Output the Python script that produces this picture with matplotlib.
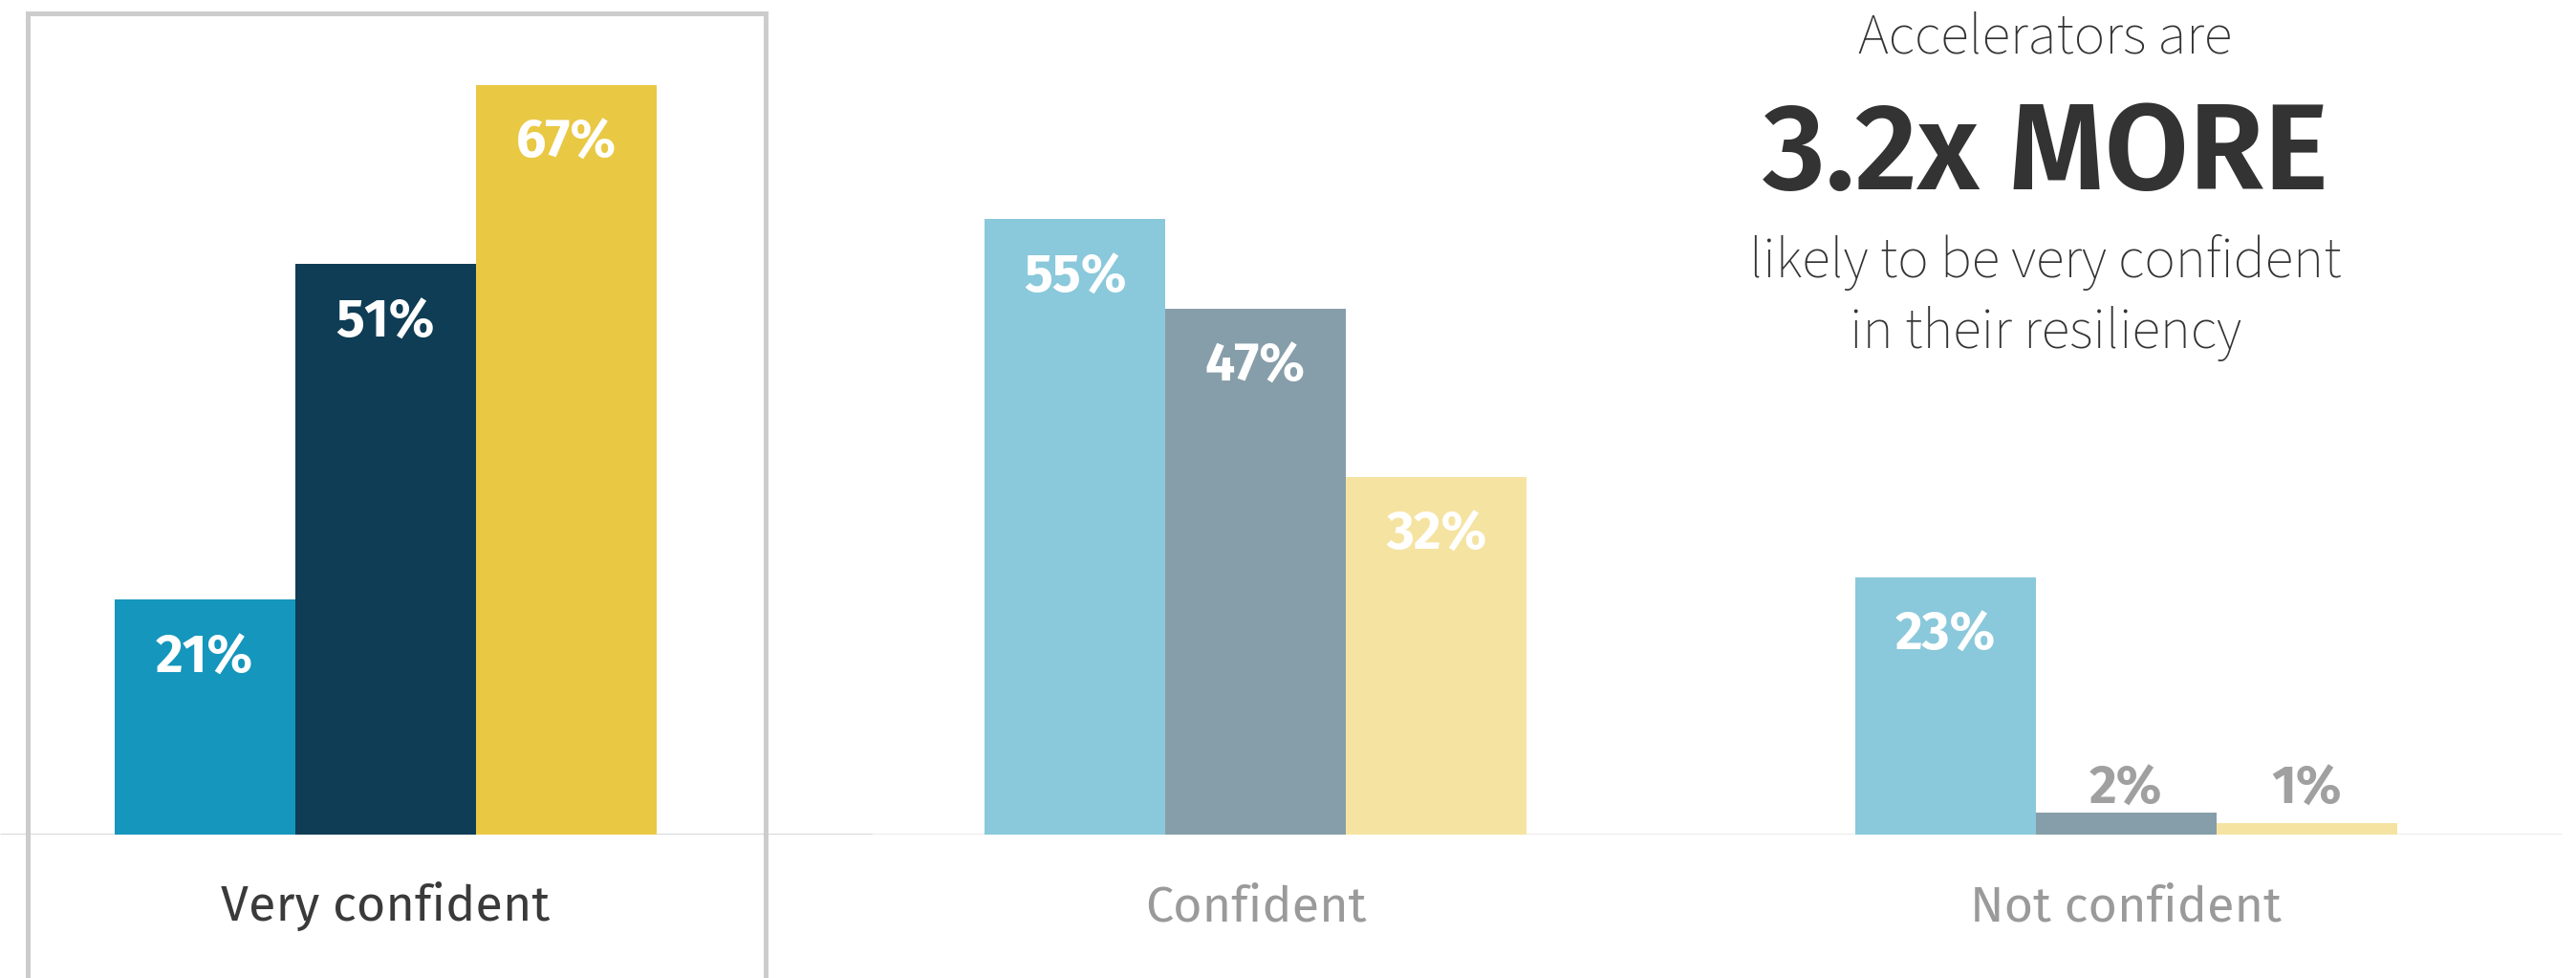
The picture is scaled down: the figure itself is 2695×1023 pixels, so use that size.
import matplotlib
matplotlib.use("Agg")
import matplotlib.pyplot as plt
from matplotlib.patches import Rectangle
from matplotlib.transforms import blended_transform_factory

LIGHT_FONT = ['Source Sans 3', 'Source Sans Pro', 'Lato', 'DejaVu Sans']
FONT = ['Fira Sans', 'Lato', 'DejaVu Sans']
plt.rcParams['font.family'] = FONT

# data
categories = ["Very confident", "Confident", "Not confident"]
series_1 = [21, 55, 23]
series_2 = [51, 47, 2]
series_3 = [67, 32, 1]
bar_labels_1 = ["21%", "55%", "23%"]
bar_labels_2 = ["51%", "47%", "2%"]
bar_labels_3 = ["67%", "32%", "1%"]

# first category is highlighted, the rest muted
strong_colors = ['#1596bc', '#0f3d55', '#e9c844']
muted_colors = ['#8ac8db', '#869ea9', '#f5e3a1']
cat_label_colors = ['#3a3a3a', '#9a9a9a', '#9a9a9a']

callout_top = "Accelerators are"
callout_big = "3.2x MORE"
callout_bottom = ["likely to be very confident", "in their resiliency"]

W, H = 2695, 1023
fig = plt.figure(figsize=(W / 100, H / 100), dpi=100)
base_px = 150
ax = fig.add_axes([0, base_px / H, 1, 1 - base_px / H])

spacing = 910.5
x0 = 403
ax.set_xlim(-x0 / spacing, (W - x0) / spacing)
ax.set_ylim(0, (H - base_px) / 11.7)
ax.axis('off')

w = 189 / spacing
series = [series_1, series_2, series_3]
labels = [bar_labels_1, bar_labels_2, bar_labels_3]
for k, vals in enumerate(series):
    for i, v in enumerate(vals):
        col = strong_colors[k] if i == 0 else muted_colors[k]
        xc = i + (k - 1) * w
        ax.bar(xc, v, width=w, color=col, linewidth=0, zorder=2)
        if v >= 10:
            ax.annotate(labels[k][i], (xc, v), xytext=(0, -76), textcoords='offset pixels',
                        ha='center', va='baseline', color='white', fontsize=40,
                        fontweight='bold', zorder=3)
        else:
            ax.text(xc, 2.8, labels[k][i], ha='center', va='baseline', color='#a0a0a0',
                    fontsize=40, fontweight='bold', zorder=3)

# baseline
ax.hlines(0, ax.get_xlim()[0], (913 - x0) / spacing, color='#d9d9d9', linewidth=2.2, zorder=1)
ax.hlines(0, (913 - x0) / spacing, (2680 - x0) / spacing, color='#ececec', linewidth=2.2, zorder=1)

# category labels
tx = blended_transform_factory(ax.transData, fig.transFigure)
for i, c in enumerate(categories):
    ax.text(i, 1 - 963 / H, c, transform=tx, ha='center', va='baseline',
            fontsize=37.5, color=cat_label_colors[i])

# highlight box round the first group
box = Rectangle(((29 - x0) / spacing, -0.05), (801 - 29) / spacing, 1 - 14 / H + 0.05,
                transform=tx, fill=False, edgecolor='#cccccc', linewidth=3.6,
                clip_on=False, zorder=1)
ax.add_patch(box)

# callout
cx = 2140 / W
fig.text(cx, 1 - 56 / H, callout_top, ha='center', va='baseline', fontsize=44,
         family=LIGHT_FONT, color='#333333')
fig.text(cx, 1 - 198 / H, callout_big, ha='center', va='baseline', fontsize=92,
         fontweight='semibold', color='#333333')
fig.text(cx, 1 - 290 / H, callout_bottom[0], ha='center', va='baseline', fontsize=44,
         family=LIGHT_FONT, color='#333333')
fig.text(cx, 1 - 364 / H, callout_bottom[1], ha='center', va='baseline', fontsize=44,
         family=LIGHT_FONT, color='#333333')

fig.savefig("out.png", dpi=100, facecolor='white')
